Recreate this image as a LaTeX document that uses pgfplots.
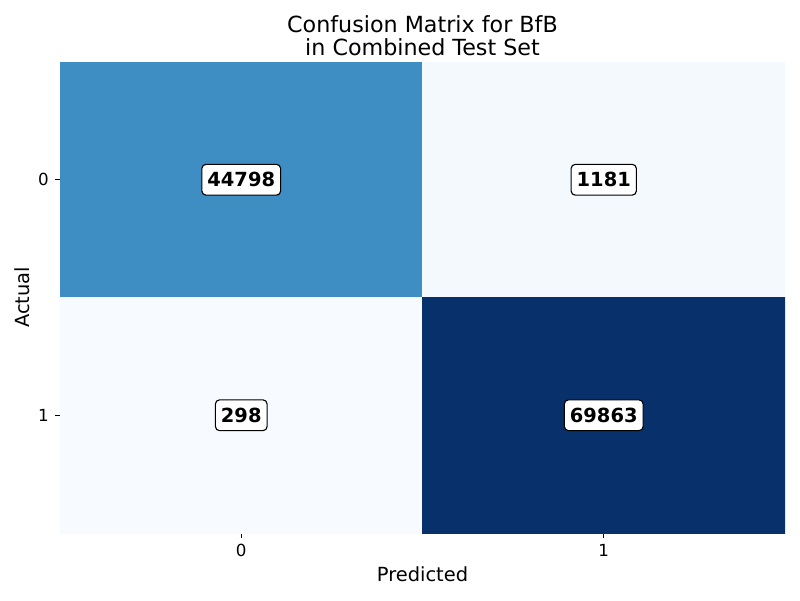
\documentclass[border=0pt]{standalone}
\usepackage{fontspec}
\setmainfont{DejaVu Sans}
\usepackage{pgfplots}
\pgfplotsset{compat=1.18}
\begin{document}
\begin{tikzpicture}[x=1pt,y=1pt]
\useasboundingbox (-43.2pt,-48.24pt) rectangle (532.8pt,383.76pt);
\begin{axis}[
  at={(0pt,0pt)}, anchor=south west,
  scale only axis, width=522pt, height=339.12pt,
  xmin=-0.5, xmax=1.5, ymin=-0.5, ymax=1.5,
  y dir=reverse,
  xtick={0,1}, ytick={0,1},
  xticklabels={0,1}, yticklabels={0,1},
  xtick pos=bottom, ytick pos=left,
  tick align=outside,
  major tick length=3.5pt,
  tick style={black, line width=0.6pt},
  axis line style={draw=none},
  /pgf/number format/assume math mode=true,
  tick label style={font=\fontsize{12}{14}\selectfont},
  xticklabel style={yshift=-1pt},
  yticklabel style={xshift=-1pt},
  xlabel={Predicted}, ylabel={Actual},
  label style={font=\fontsize{14}{17}\selectfont},
  xlabel style={yshift=0pt},
  ylabel style={yshift=-0.5pt},
  title={Confusion Matrix for BfB\\in Combined Test Set},
  title style={align=center, font=\fontsize{16}{16.5}\selectfont, yshift=-5pt},
  colormap={blues}{rgb255=(247,251,255) rgb255=(222,235,247) rgb255=(198,219,239) rgb255=(158,202,225) rgb255=(107,174,214) rgb255=(66,146,198) rgb255=(33,113,181) rgb255=(8,81,156) rgb255=(8,48,107)},
  point meta min=298, point meta max=69863,
]
\addplot[matrix plot*, mesh/cols=2, point meta=explicit] table[meta=c] {
x y c
0 0 44798
1 0 1181
0 1 298
1 1 69863
};
\addplot[draw=none, mark=none, nodes near coords, nodes near coords align=center,
  point meta=explicit symbolic,
  every node near coord/.style={anchor=center, fill=white, draw=black, line width=0.8pt, rounded corners=3pt, inner xsep=4pt, inner ysep=5.8pt, text=black, font=\fontsize{14}{16}\selectfont\bfseries}]
  table[meta=c] {
x y c
0 0 44798
1 0 1181
0 1 298
1 1 69863
};
\end{axis}
\end{tikzpicture}
\end{document}
